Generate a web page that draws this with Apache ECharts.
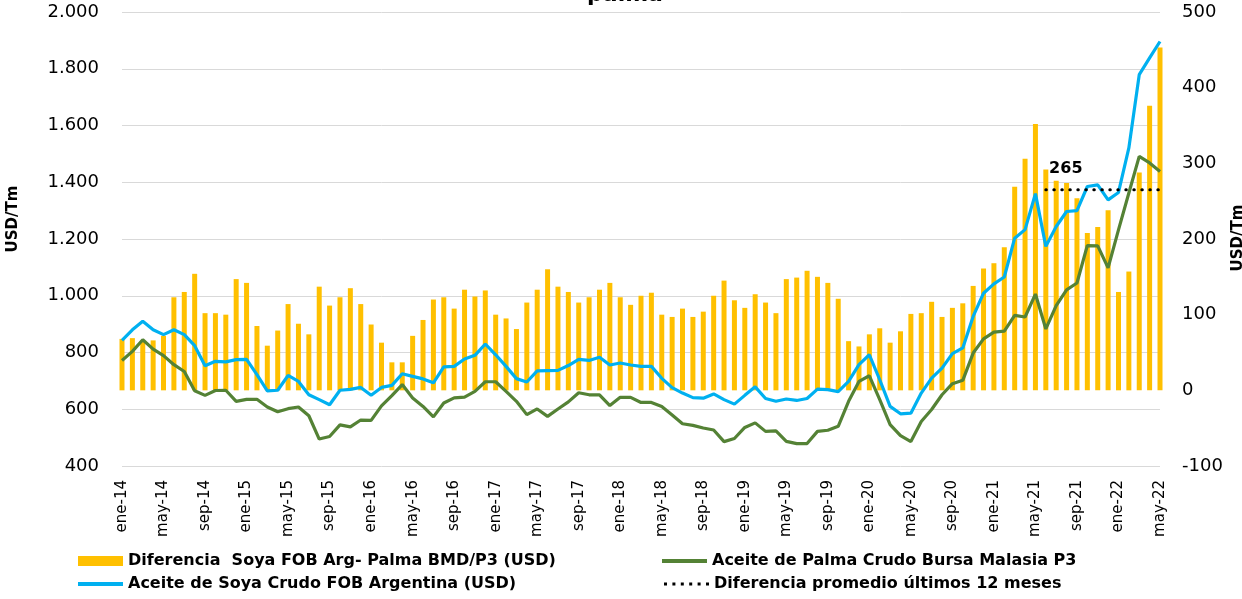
<!DOCTYPE html>
<html lang="es">
<head>
<meta charset="utf-8">
<title>Aceite de soya vs palma</title>
<script src="https://cdn.jsdelivr.net/npm/echarts@6/dist/echarts.min.js"></script>
<style>
  html, body { margin: 0; padding: 0; background: #ffffff; }
  #chart { width: 1242px; height: 599px; }
</style>
</head>
<body>
<div id="chart"></div>
<script>
// Meses y años del eje de categorías (ene-14 a may-22)
const mesesAbrev = ['ene', 'feb', 'mar', 'abr', 'may', 'jun', 'jul', 'ago', 'sep', 'oct', 'nov', 'dic'];
const anios = ['14', '15', '16', '17', '18', '19', '20', '21', '22'];
const mesesUltimoAnio = 5;

// Diferencia Soya FOB Arg - Palma BMD/P3 (USD/Tm), eje derecho
const diferencia = [
  68, 69, 66, 66, 72, 123, 130, 154, 102, 102,
  100, 147, 142, 85, 59, 79, 114, 88, 74, 137,
  112, 123, 135, 114, 87, 63, 37, 37, 72, 93,
  120, 123, 108, 133, 124, 132, 100, 95, 81, 116,
  133, 160, 137, 130, 116, 123, 133, 142, 123, 113,
  125, 129, 100, 97, 108, 97, 104, 125, 145, 119,
  109, 127, 116, 102, 147, 149, 158, 150, 142, 121,
  65, 58, 74, 82, 63, 78, 101, 102, 117, 97,
  109, 115, 138, 161, 168, 189, 269, 306, 352, 292,
  277, 274, 254, 208, 216, 238, 130, 157, 288, 376,
  453
];

// Aceite de Palma Crudo Bursa Malasia P3 (USD/Tm), eje izquierdo
const palma = [
  772, 804, 845, 812, 789, 757, 733, 665, 649, 666,
  667, 628, 635, 635, 608, 591, 602, 608, 577, 495,
  504, 545, 538, 562, 561, 612, 648, 687, 640, 610,
  573, 622, 640, 643, 663, 697, 697, 663, 628, 581,
  601, 575, 601, 626, 658, 651, 651, 613, 642, 642,
  624, 624, 610, 580, 549, 543, 534, 527, 486, 497,
  536, 552, 522, 524, 487, 479, 479, 522, 526, 540,
  628, 698, 718, 634, 546, 507, 486, 557, 599, 651,
  690, 702, 798, 848, 872, 875, 931, 925, 1006, 883,
  965, 1021, 1045, 1177, 1176, 1098, 1232, 1362, 1491, 1468,
  1438
];

// Aceite de Soya Crudo FOB Argentina (USD/Tm), eje izquierdo
const soya = [
  843, 880, 910, 880, 863, 880, 863, 824, 753, 769,
  767, 775, 776, 722, 665, 667, 719, 698, 651, 634,
  616, 667, 670, 677, 649, 677, 684, 725, 716, 707,
  693, 749, 751, 777, 790, 830, 792, 751, 708, 696,
  735, 736, 737, 754, 776, 772, 783, 756, 763, 756,
  751, 751, 709, 676, 657, 641, 639, 654, 634, 618,
  649, 679, 638, 628, 636, 631, 638, 671, 669, 662,
  698, 757, 792, 704, 610, 584, 586, 657, 710, 745,
  796, 816, 927, 1009, 1042, 1066, 1203, 1233, 1360, 1174,
  1244, 1297, 1300, 1385, 1391, 1338, 1364, 1521, 1779, 1838,
  1896
];

// Diferencia promedio de los últimos 12 meses
const promedioUltimos12 = 265;
const mesesPromedio = 12;

// Rangos de los ejes
const ejeIzq = { min: 400, max: 2000, paso: 200 };
const ejeDer = { min: -100, max: 500, paso: 100 };

const categorias = [];
anios.forEach((a, k) => {
  const n = k === anios.length - 1 ? mesesUltimoAnio : 12;
  for (let m = 0; m < n; m++) categorias.push(mesesAbrev[m] + '-' + a);
});

const inicioPromedio = categorias.length - mesesPromedio;
const serieFija = categorias.map((c, i) => (i < inicioPromedio ? null : promedioUltimos12));

const nombres = {
  dif: 'Diferencia  Soya FOB Arg- Palma BMD/P3 (USD)',
  palma: 'Aceite de Palma Crudo Bursa Malasia P3',
  soya: 'Aceite de Soya Crudo FOB Argentina (USD)',
  prom: 'Diferencia promedio últimos 12 meses'
};

const fuente = 'DejaVu Sans';
const miles = v => String(v).replace(/\B(?=(\d{3})+(?!\d))/g, '.');

// Iconos de leyenda: barra, línea continua y línea punteada
const iconoPunteado = 'path://' + [0, 1, 2, 3, 4, 5]
  .map(k => 'M' + (k * 8.4) + ',0h3v3h-3z').join(' ');

const textoLeyenda = {
  fontFamily: fuente, fontWeight: 'bold', fontSize: 16, color: '#000'
};
function leyenda(nombre, left, top, icon, alto) {
  return {
    data: [nombre], left: left, top: top, padding: 0,
    icon: icon, itemWidth: 45, itemHeight: alto,
    textStyle: textoLeyenda, selectedMode: false
  };
}

const chart = echarts.init(document.getElementById('chart'), null, { renderer: 'canvas' });

chart.setOption({
  animation: false,
  backgroundColor: '#ffffff',
  grid: { left: 122, right: 82, top: 12, bottom: 133, containLabel: false, outerBoundsMode: 'none' },
  legend: [
    leyenda(nombres.dif, 78, 553, 'rect', 10),
    leyenda(nombres.soya, 78, 576, 'rect', 4),
    leyenda(nombres.palma, 662, 553, 'rect', 4),
    leyenda(nombres.prom, 664, 576, iconoPunteado, 3)
  ],
  graphic: [
    {
      type: 'text', x: 625, y: -5, silent: true,
      style: {
        text: 'palma', font: 'bold 22px "DejaVu Sans"', fill: '#000',
        align: 'center', verticalAlign: 'middle',
        textAlign: 'center', textVerticalAlign: 'middle'
      }
    },
    {
      type: 'text', x: 13, y: 219, rotation: Math.PI / 2, silent: true,
      style: {
        text: 'USD/Tm', font: 'bold 15px "DejaVu Sans"', fill: '#000',
        align: 'center', verticalAlign: 'middle',
        textAlign: 'center', textVerticalAlign: 'middle'
      }
    },
    {
      type: 'text', x: 1238, y: 238, rotation: Math.PI / 2, silent: true,
      style: {
        text: 'USD/Tm', font: 'bold 15px "DejaVu Sans"', fill: '#000',
        align: 'center', verticalAlign: 'middle',
        textAlign: 'center', textVerticalAlign: 'middle'
      }
    }
  ],
  xAxis: {
    type: 'category',
    data: categorias,
    boundaryGap: false,
    axisLine: { show: false },
    axisTick: { show: false },
    splitLine: { show: false },
    axisLabel: {
      interval: 3, rotate: 90, margin: 14,
      fontFamily: fuente, fontSize: 15, color: '#000'
    }
  },
  yAxis: [
    {
      type: 'value', position: 'left',
      min: ejeIzq.min, max: ejeIzq.max, interval: ejeIzq.paso,
      axisLine: { show: false }, axisTick: { show: false },
      splitLine: { show: true, lineStyle: { color: '#d9d9d9', width: 1 } },
      axisLabel: {
        margin: 23, fontFamily: fuente, fontSize: 18, color: '#000',
        formatter: v => miles(v)
      }
    },
    {
      type: 'value', position: 'right',
      min: ejeDer.min, max: ejeDer.max, interval: ejeDer.paso,
      axisLine: { show: false }, axisTick: { show: false },
      splitLine: { show: false },
      axisLabel: {
        margin: 22, fontFamily: fuente, fontSize: 18, color: '#000'
      }
    }
  ],
  series: [
    {
      name: nombres.dif, type: 'bar', yAxisIndex: 1,
      data: diferencia, barWidth: 5,
      itemStyle: { color: '#FFC000' }
    },
    {
      name: nombres.palma, type: 'line', yAxisIndex: 0,
      data: palma, symbol: 'none',
      lineStyle: { color: '#548235', width: 3.2 },
      itemStyle: { color: '#548235' }
    },
    {
      name: nombres.soya, type: 'line', yAxisIndex: 0,
      data: soya, symbol: 'none',
      lineStyle: { color: '#00B0F0', width: 3.2 },
      itemStyle: { color: '#00B0F0' }
    },
    {
      name: nombres.prom, type: 'line', yAxisIndex: 1,
      data: serieFija, symbol: 'none',
      lineStyle: { color: '#000', width: 3, type: [0.5, 7.5], cap: 'round' },
      itemStyle: { color: '#000' },
      markPoint: {
        symbol: 'rect', symbolSize: 1, silent: true,
        itemStyle: { color: 'rgba(0,0,0,0)' },
        label: {
          show: true, position: 'top', distance: 12, offset: [20, 0],
          fontFamily: fuente, fontWeight: 'bold', fontSize: 16, color: '#000',
          formatter: p => String(p.value)
        },
        data: [{ coord: [inicioPromedio, promedioUltimos12], value: promedioUltimos12 }]
      }
    }
  ]
});
</script>
</body>
</html>
